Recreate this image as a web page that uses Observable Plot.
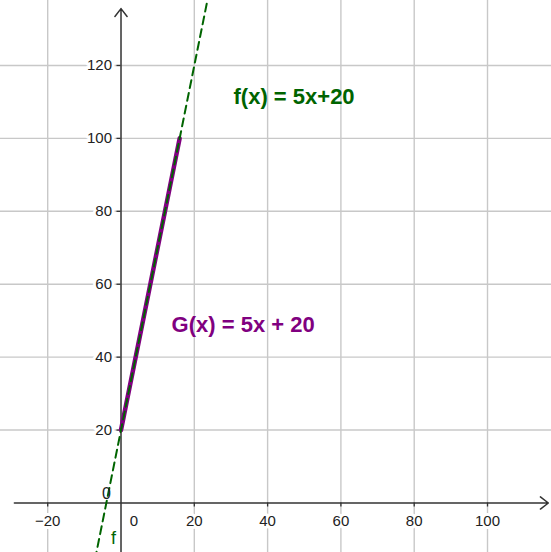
<!DOCTYPE html>
<html>
<head>
<meta charset="utf-8">
<script src="https://cdn.jsdelivr.net/npm/d3@7"></script>
<script src="https://cdn.jsdelivr.net/npm/@observablehq/plot@0.6"></script>
<style>
  html, body { margin: 0; padding: 0; background: #fff; }
  #chart svg { display: block; }
</style>
</head>
<body>
<div id="chart"></div>
<script>
// View window (data units)
const xDomain = [-32.88, 117.46];
const yDomain = [-13.58, 137.82];
// Axis extents (data units)
const xAxisExtent = [-29.1, 116.6];
const yAxisExtent = [-13.58, 135.6];
// Grid / tick values
const xTicks = [-20, 20, 40, 60, 80, 100];
const yTicks = [20, 40, 60, 80, 100, 120];
// Function f(x) = 5x + 20 (dashed, full line), G(x) = 5x + 20 on [0, 16]
const fSlope = 5, fIntercept = 20;
const fXs = [-12, 30];
const gXs = [0, 16];
const fLabel = "f(x) = 5x+20";
const gLabel = "G(x) = 5x + 20";
const fLabelPos = [30.7, 111.5];
const gLabelPos = [13.8, 48.7];
const zeroPointLabel = {x: -3.96, y: 2.6, text: "0"};
const fNameLabel = {x: -2.05, y: -9.7, text: "f"};

const green = "#006400";
const purple = "#800080";
const font = "'Liberation Sans', Arial, sans-serif";

const fData = fXs.map(x => ({x, y: fSlope * x + fIntercept}));
const gData = gXs.map(x => ({x, y: fSlope * x + fIntercept}));

const chart = Plot.plot({
  width: 551,
  height: 552,
  margin: 0,
  style: {background: "#fff", fontFamily: font},
  x: {domain: xDomain, axis: null},
  y: {domain: yDomain, axis: null},
  marks: [
    Plot.ruleX(xTicks, {stroke: "#c8c8c8", strokeWidth: 1.4}),
    Plot.ruleY(yTicks, {stroke: "#c8c8c8", strokeWidth: 1.4}),
    // tick labels
    Plot.text(xTicks, {x: d => d, y: 0, text: d => d < 0 ? "\u2212" + Math.abs(d) : String(d), dy: 18, fontSize: 15, fill: "#222", stroke: "white", strokeWidth: 6, paintOrder: "stroke"}),
    Plot.text([0], {x: 0, y: 0, text: d => String(d), dx: 13, dy: 18, fontSize: 15, fill: "#222", stroke: "white", strokeWidth: 6, paintOrder: "stroke"}),
    Plot.text(yTicks, {x: 0, y: d => d, text: d => String(d), dx: -9, textAnchor: "end", fontSize: 15, fill: "#222", stroke: "white", strokeWidth: 6, paintOrder: "stroke"}),
    // tick marks
    Plot.ruleX(xTicks, {y1: 0, y2: -1.1, stroke: "#333", strokeWidth: 1.3}),
    Plot.ruleY(yTicks, {x1: 0, x2: -1.1, stroke: "#333", strokeWidth: 1.3}),
    // axes with arrows
    Plot.arrow([0], {x1: xAxisExtent[0], x2: xAxisExtent[1], y1: 0, y2: 0, stroke: "#333", strokeWidth: 1.5, headLength: 10, headAngle: 75, bend: 0}),
    Plot.arrow([0], {x1: 0, x2: 0, y1: yAxisExtent[0], y2: yAxisExtent[1], stroke: "#333", strokeWidth: 1.5, headLength: 10, headAngle: 75, bend: 0}),
    // G segment
    Plot.line(gData, {x: "x", y: "y", stroke: purple, strokeWidth: 4.5, strokeLinecap: "round"}),
    // f dashed line
    Plot.line(fData, {x: "x", y: "y", stroke: green, strokeWidth: 2, strokeDasharray: "8,5", clip: true}),
    // labels
    Plot.text([fLabel], {x: fLabelPos[0], y: fLabelPos[1], text: d => d, textAnchor: "start", fontSize: 22, fontWeight: "bold", fill: green}),
    Plot.text([gLabel], {x: gLabelPos[0], y: gLabelPos[1], text: d => d, textAnchor: "start", fontSize: 22, fontWeight: "bold", fill: purple}),
    Plot.text([zeroPointLabel], {x: "x", y: "y", text: "text", fontSize: 16, fill: "#222"}),
    Plot.text([fNameLabel], {x: "x", y: "y", text: "text", fontSize: 18, fill: green})
  ]
});
document.getElementById("chart").appendChild(chart);
</script>
</body>
</html>
